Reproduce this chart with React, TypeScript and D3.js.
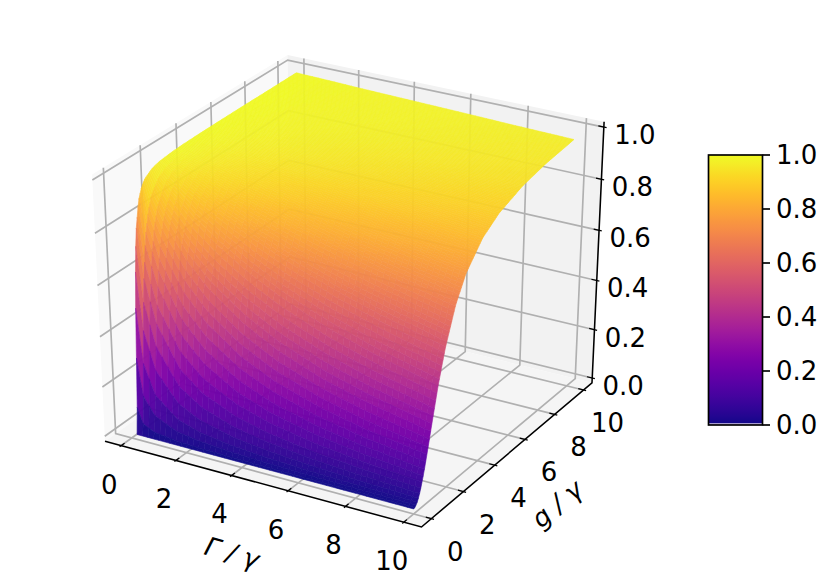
import React from "react";
import * as d3 from "d3";

// Values
const gammaRatio = [0.2, 0.39, 0.79, 1.57, 2.36, 3.54, 4.71, 6.29, 7.86, 10];
const gRatio = [0, 0.05, 0.1, 0.2, 0.3, 0.4, 0.6, 0.8, 1, 1.4, 1.8, 2.4, 3, 4, 5, 6.5, 8, 10];
const zRow0 = [0, 0.054, 0.185, 0.476, 0.672, 0.784, 0.891, 0.936, 0.958, 0.978, 0.987, 0.992, 0.995, 0.997, 0.998, 0.999, 0.999, 1];
const zRow1 = [0, 0.022, 0.083, 0.267, 0.45, 0.593, 0.766, 0.853, 0.901, 0.947, 0.967, 0.981, 0.988, 0.993, 0.996, 0.997, 0.998, 0.999];
const zRow2 = [0, 0.011, 0.043, 0.154, 0.29, 0.421, 0.621, 0.744, 0.82, 0.899, 0.936, 0.963, 0.976, 0.986, 0.991, 0.995, 0.997, 0.998];
const zRow3 = [0, 0.006, 0.022, 0.083, 0.17, 0.267, 0.45, 0.593, 0.694, 0.817, 0.88, 0.929, 0.953, 0.973, 0.983, 0.99, 0.993, 0.996];
const zRow4 = [0, 0.004, 0.015, 0.057, 0.12, 0.195, 0.353, 0.492, 0.602, 0.748, 0.831, 0.897, 0.932, 0.96, 0.974, 0.985, 0.99, 0.993];
const zRow5 = [0, 0.003, 0.01, 0.039, 0.083, 0.139, 0.267, 0.393, 0.503, 0.664, 0.766, 0.853, 0.901, 0.942, 0.962, 0.977, 0.985, 0.99];
const zRow6 = [0, 0.002, 0.008, 0.029, 0.064, 0.108, 0.214, 0.327, 0.431, 0.598, 0.711, 0.814, 0.872, 0.924, 0.95, 0.97, 0.98, 0.987];
const zRow7 = [0, 0.001, 0.006, 0.022, 0.049, 0.083, 0.17, 0.267, 0.362, 0.527, 0.648, 0.766, 0.836, 0.901, 0.934, 0.96, 0.973, 0.983];
const zRow8 = [0, 0.001, 0.005, 0.018, 0.039, 0.068, 0.141, 0.225, 0.313, 0.471, 0.596, 0.724, 0.804, 0.879, 0.919, 0.951, 0.967, 0.978];
const zRow9 = [0, 0.001, 0.004, 0.014, 0.031, 0.054, 0.114, 0.186, 0.263, 0.412, 0.536, 0.673, 0.763, 0.851, 0.899, 0.938, 0.958, 0.973];
const zTable = [zRow0, zRow1, zRow2, zRow3, zRow4, zRow5, zRow6, zRow7, zRow8, zRow9];

const xTicks = [0, 2, 4, 6, 8, 10];
const yTicks = [0, 2, 4, 6, 8, 10];
const zTicks = [0, 0.2, 0.4, 0.6, 0.8, 1];
const cbarTicks = [0, 0.2, 0.4, 0.6, 0.8, 1];
const xLabel = "Γ / γ";
const yLabel = "g / γ";

const xLim: [number, number] = [-0.6, 10.6];
const yLim: [number, number] = [-0.6, 10.6];
const zLim: [number, number] = [-0.02, 1.02];

const W = 831, H = 580;
const font = "'DejaVu Sans'";
const fs = 26;

// matplotlib mplot3d view (elev 30, azim -60, dist 10)
const nx = d3.scaleLinear().domain(xLim).range([-0.5, 0.5]);
const ny = d3.scaleLinear().domain(yLim).range([-0.5, 0.5]);
const nz = d3.scaleLinear().domain(zLim).range([-0.5, 0.5]);
const rawProject = (qx: number, qy: number, qz: number) => {
  const u = 0.8660254 * qx + 0.5 * qy;
  const v = -0.25 * qx + 0.4330127 * qy + 0.8660254 * qz;
  const n = 0.4330127 * qx - 0.75 * qy + 0.5 * qz;
  const d = 10 - n;
  return [(u * 10) / d, (v * 10) / d];
};
const pA = rawProject(-0.5, -0.5, -0.5);
const pB = rawProject(0.5, -0.5, -0.5);
const pC = rawProject(0.5, 0.5, -0.5);
const pT = rawProject(-0.5, 0.5, 0.5);
const sx = d3.scaleLinear().domain([pA[0], pC[0]]).range([105, 592]);
const sy = d3.scaleLinear().domain([pB[1], pT[1]]).range([527, 55]);
const proj = (x: number, y: number, z: number): [number, number] => {
  const p = rawProject(nx(x), ny(y), nz(z));
  return [sx(p[0]), sy(p[1])];
};
const poly = (pts: [number, number][]) => d3.line()(pts) + "Z";

const [x0, x1] = xLim;
const [y0, y1] = yLim;
const [z0, z1] = zLim;

const tableZ = (gam: number, g: number) => {
  const i = Math.min(d3.bisectRight(gammaRatio, gam) - 1, gammaRatio.length - 2);
  const j = Math.min(d3.bisectRight(gRatio, g) - 1, gRatio.length - 2);
  const a = d3.scaleLinear().domain([gammaRatio[i], gammaRatio[i + 1]]).range([0, 1])(gam);
  const b = d3.scaleLinear().domain([gRatio[j], gRatio[j + 1]]).range([0, 1])(g);
  const l = zTable[i][j] * (1 - b) + zTable[i][j + 1] * b;
  const r = zTable[i + 1][j] * (1 - b) + zTable[i + 1][j + 1] * b;
  return l * (1 - a) + r * a;
};

const meshG = d3.range(0, 9.8501, 0.07);
const meshGam = d3.range(gammaRatio[0], 10.0001, 0.2);

function Surface() {
  const out: React.ReactNode[] = [];
  for (let j = meshG.length - 2; j >= 0; j--) {
    for (let i = 0; i < meshGam.length - 1; i++) {
      const a = meshGam[i], b = meshGam[i + 1], c = meshG[j], e = meshG[j + 1];
      const z00 = tableZ(a, c), z10 = tableZ(b, c), z11 = tableZ(b, e), z01 = tableZ(a, e);
      const col = d3.interpolatePlasma((z00 + z10 + z11 + z01) / 4);
      out.push(
        <path key={`${i}-${j}`} d={poly([proj(a, c, z00), proj(b, c, z10), proj(b, e, z11), proj(a, e, z01)])}
          fill={col} stroke={col} strokeWidth={0.6} />
      );
    }
  }
  return <g opacity={0.97}>{out}</g>;
}

const cbarY = d3.scaleLinear().domain([0, 1]).range([425, 155]);
const cbarStops = d3.range(0, 65);

export default function App() {
  const gridColor = "#b0b0b0";
  const gw = 1.67;
  const tickStyle = { fontFamily: font, fontSize: fs, fill: "#000" };
  const xd = (x1 - x0) / 12, yd = (y1 - y0) / 12, zd = (x1 - x0) / 12;
  return (
    <svg width={W} height={H} viewBox={`0 0 ${W} ${H}`}
      style={{ position: "absolute", left: 0, top: 0, display: "block", background: "#fff" }}>
      <defs>
        <linearGradient id="cb" x1="0" y1="1" x2="0" y2="0">
          {cbarStops.map((s) => (
            <stop key={s} offset={s / 64} stopColor={d3.interpolatePlasma(s / 64)} />
          ))}
        </linearGradient>
      </defs>
      {/* panes */}
      <path d={poly([proj(x0, y0, z0), proj(x0, y1, z0), proj(x0, y1, z1), proj(x0, y0, z1)])} fill="#f9f9f9" />
      <path d={poly([proj(x0, y1, z0), proj(x1, y1, z0), proj(x1, y1, z1), proj(x0, y1, z1)])} fill="#f2f2f2" />
      <path d={poly([proj(x0, y0, z0), proj(x1, y0, z0), proj(x1, y1, z0), proj(x0, y1, z0)])} fill="#f5f5f5" />
      {/* grid */}
      <g fill="none" stroke={gridColor} strokeWidth={gw}>
        {xTicks.map((t) => <path key={t} d={d3.line()([proj(t, y0, z0), proj(t, y1, z0), proj(t, y1, z1)])!} />)}
        {yTicks.map((t) => <path key={t} d={d3.line()([proj(x1, t, z0), proj(x0, t, z0), proj(x0, t, z1)])!} />)}
        {zTicks.map((t) => <path key={t} d={d3.line()([proj(x0, y0, t), proj(x0, y1, t), proj(x1, y1, t)])!} />)}
      </g>
      {/* axes */}
      <g fill="none" stroke="#000" strokeWidth={1.56}>
        <path d={d3.line()([proj(x0, y0, z0), proj(x1, y0, z0), proj(x1, y1, z0), proj(x1, y1, z1)])!} strokeLinejoin="miter" />
      </g>
      <g stroke="#000" strokeWidth={1.25}>
        {xTicks.map((t) => {
          const a = proj(t, y0 + 0.2 * yd, z0), b = proj(t, y0 - 0.1 * yd, z0);
          return <line key={t} x1={a[0]} y1={a[1]} x2={b[0]} y2={b[1]} />;
        })}
        {yTicks.map((t) => {
          const a = proj(x1 - 0.2 * xd, t, z0), b = proj(x1 + 0.1 * xd, t, z0);
          return <line key={t} x1={a[0]} y1={a[1]} x2={b[0]} y2={b[1]} />;
        })}
        {zTicks.map((t) => {
          const a = proj(x1 - 0.2 * zd, y1, t), b = proj(x1 + 0.1 * zd, y1, t);
          return <line key={t} x1={a[0]} y1={a[1]} x2={b[0]} y2={b[1]} />;
        })}
      </g>
      <Surface />
      {/* tick labels */}
      <g {...tickStyle} textAnchor="middle" dominantBaseline="central">
        {xTicks.map((t) => {
          const p = proj(t, y0, z0);
          return <text key={t} x={p[0] - 12} y={p[1] + 39}>{t}</text>;
        })}
        {yTicks.map((t) => {
          const p = proj(x1, t, z0);
          return <text key={t} x={p[0] + 24} y={p[1] + 33}>{t}</text>;
        })}
        {zTicks.map((t) => {
          const p = proj(x1, y1, t);
          return <text key={t} x={p[0] + 31} y={p[1] + 8}>{t.toFixed(1)}</text>;
        })}
      </g>
      {/* axis titles */}
      <text {...tickStyle} fontStyle="italic" textAnchor="middle" dominantBaseline="central"
        transform="translate(232,553) rotate(16)">{xLabel}</text>
      <text {...tickStyle} fontStyle="italic" textAnchor="middle" dominantBaseline="central"
        transform="translate(557,504) rotate(-40)">{yLabel}</text>
      {/* colorbar */}
      <g>
        <rect x={708.5} y={155} width={54} height={270} fill="url(#cb)" />
        <rect x={708.5} y={423} width={54} height={2} fill="#a79ad0" />
        <rect x={708.5} y={155} width={54} height={270} fill="none" stroke="#000" strokeWidth={1.67} />
        {cbarTicks.map((t) => (
          <g key={t}>
            <line x1={762.5} x2={770} y1={cbarY(t)} y2={cbarY(t)} stroke="#000" strokeWidth={1.67} />
            <text {...tickStyle} x={776} y={cbarY(t)} dominantBaseline="central">{t.toFixed(1)}</text>
          </g>
        ))}
      </g>
    </svg>
  );
}
